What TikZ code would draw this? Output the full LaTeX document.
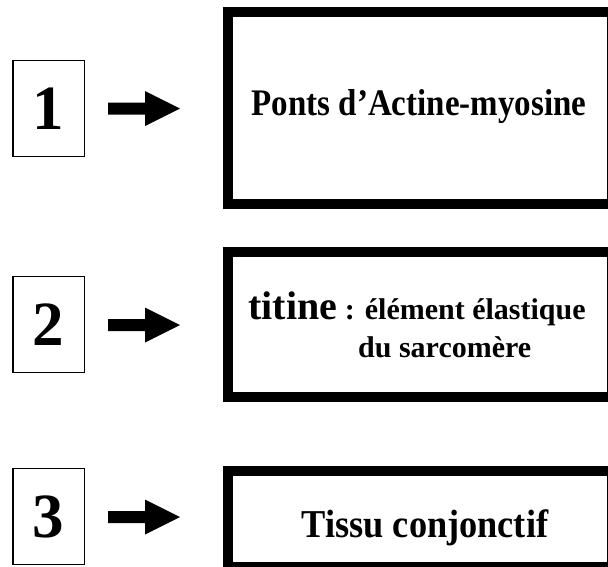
\documentclass[tikz,border=0pt]{standalone}
\usepackage{fontspec}
\setmainfont{Liberation Serif}
\newfontfamily\condA[FakeStretch=0.88]{Liberation Serif}
\newfontfamily\condB[FakeStretch=0.92]{Liberation Serif}
\tikzset{
  numbox/.style={draw=black, line width=1.3pt, inner sep=0pt, minimum width=71.5pt, minimum height=95.5pt,
    font=\fontsize{63}{70}\selectfont\bfseries},
  bigbox/.style={draw=black, line width=10pt, inner sep=0pt, minimum width=383.7pt},
  blockarrow/.style={fill=black},
  lbl/.style={inner sep=0pt, font=\bfseries}
}
\newcommand{\blockarr}[1]{%
  \fill[blockarrow] (#1) ++(0,-6) -- ++(37,0) -- ++(0,-11.5) -- ++(35,17.5) -- ++(-35,17.5) -- ++(0,-11.5) -- ++(-37,0) -- cycle;}
\begin{document}
\begin{tikzpicture}[x=1pt,y=-1pt]
\useasboundingbox (0,0) rectangle (608,566);
\begin{scope}
\clip (0,0) rectangle (608,566);
% number boxes
\node[numbox] (n1) at (48.7,108.5) {1};
\node[numbox] (n2) at (48.7,324.5) {2};
\node[numbox] (n3) at (48.7,516.5) {3};
% arrows
\coordinate (a1) at (108,108.5);
\coordinate (a2) at (108,325);
\coordinate (a3) at (108,517);
\blockarr{a1}
\blockarr{a2}
\blockarr{a3}
% big boxes
\node[bigbox, minimum height=192pt] (b1) at (420.2,108.3) {};
\node[bigbox, minimum height=144.4pt] (b2) at (420.2,324.5) {};
\node[bigbox, minimum height=96pt] (b3) at (420.2,518.7) {};
% texts
\node[lbl, anchor=base, font=\condA\fontsize{37.5}{44}\selectfont\bfseries] (t1) at (419,115) {Ponts d’Actine-myosine};
\node[lbl, anchor=base west] (t2a) at (248.3,319) {\fontsize{40}{46}\selectfont titine\fontsize{30}{36}\selectfont{} : élément élastique};
\node[lbl, anchor=base west, font=\fontsize{30}{36}\selectfont\bfseries] (t2b) at (358,357) {du sarcomère};
\node[lbl, anchor=base, font=\condB\fontsize{39.5}{46}\selectfont\bfseries] (t3) at (425,537) {Tissu conjonctif};
\end{scope}
\end{tikzpicture}
\end{document}
